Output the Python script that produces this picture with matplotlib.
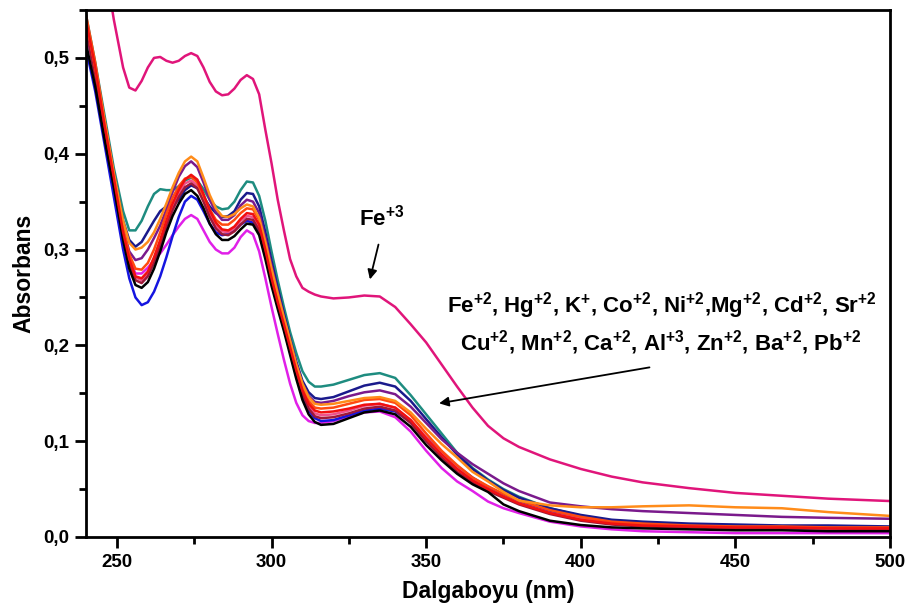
import matplotlib
matplotlib.use("Agg")
import matplotlib.pyplot as plt
from matplotlib.ticker import MultipleLocator, FuncFormatter

plt.rcParams['font.family'] = ['Liberation Sans', 'DejaVu Sans']
plt.rcParams['font.weight'] = 'bold'
plt.rcParams['mathtext.fontset'] = 'custom'
plt.rcParams['mathtext.rm'] = 'Liberation Sans:bold'
plt.rcParams['mathtext.bf'] = 'Liberation Sans:bold'
plt.rcParams['mathtext.it'] = 'Liberation Sans:bold'
plt.rcParams['mathtext.default'] = 'bf'

wavelength = [240, 243, 246, 249, 252, 254, 256, 258, 260, 262, 264, 266, 268, 270, 272,
              274, 276, 278, 280, 282, 284, 286, 288, 290, 292, 294, 296, 298, 300, 302,
              304, 306, 308, 310, 312, 314, 316, 320, 325, 330, 335, 340, 345, 350, 355,
              360, 365, 370, 375, 380, 390, 400, 410, 420, 435, 450, 465, 480, 500]

fe3 = [0.70, 0.65, 0.60, 0.54, 0.49, 0.469, 0.466, 0.476, 0.490, 0.500, 0.501, 0.497, 0.495, 0.497, 0.502,
       0.505, 0.502, 0.490, 0.475, 0.465, 0.461, 0.462, 0.468, 0.477, 0.482, 0.478, 0.462, 0.425, 0.39, 0.352,
       0.32, 0.29, 0.272, 0.26, 0.256, 0.253, 0.251, 0.249, 0.250, 0.252, 0.251, 0.240, 0.222, 0.203, 0.180,
       0.157, 0.135, 0.116, 0.103, 0.094, 0.081, 0.071, 0.063, 0.057, 0.051, 0.046, 0.043, 0.040, 0.0375]

teal = [0.545, 0.495, 0.44, 0.385, 0.34, 0.32, 0.32, 0.33, 0.345, 0.358, 0.363, 0.362, 0.362, 0.366, 0.372,
        0.375, 0.372, 0.363, 0.352, 0.345, 0.342, 0.343, 0.35, 0.362, 0.371, 0.37, 0.356, 0.33, 0.298, 0.268,
        0.24, 0.214, 0.192, 0.173, 0.162, 0.157, 0.157, 0.159, 0.164, 0.169, 0.171, 0.166, 0.148, 0.128, 0.108,
        0.088, 0.072, 0.06, 0.05, 0.042, 0.03, 0.022, 0.017, 0.014, 0.012, 0.011, 0.01, 0.01, 0.009]

navy = [0.54, 0.49, 0.435, 0.38, 0.33, 0.31, 0.303, 0.308, 0.319, 0.33, 0.34, 0.345, 0.346, 0.352, 0.362,
        0.367, 0.364, 0.355, 0.345, 0.338, 0.334, 0.335, 0.34, 0.352, 0.359, 0.358, 0.345, 0.318, 0.288, 0.26,
        0.233, 0.207, 0.183, 0.163, 0.151, 0.145, 0.144, 0.146, 0.152, 0.158, 0.161, 0.157, 0.142, 0.123, 0.104,
        0.086, 0.071, 0.059, 0.049, 0.041, 0.03, 0.023, 0.018, 0.016, 0.014, 0.013, 0.012, 0.012, 0.011]

purple = [0.535, 0.485, 0.43, 0.375, 0.322, 0.298, 0.289, 0.291, 0.3, 0.312, 0.325, 0.342, 0.36, 0.376, 0.387,
          0.392, 0.386, 0.37, 0.352, 0.339, 0.331, 0.331, 0.336, 0.346, 0.352, 0.35, 0.338, 0.312, 0.283, 0.256,
          0.23, 0.205, 0.181, 0.16, 0.147, 0.141, 0.14, 0.142, 0.147, 0.151, 0.153, 0.149, 0.136, 0.119, 0.102,
          0.088, 0.076, 0.066, 0.056, 0.048, 0.036, 0.032, 0.029, 0.027, 0.025, 0.023, 0.021, 0.02, 0.019]

orange = [0.54, 0.49, 0.435, 0.38, 0.33, 0.307, 0.3, 0.302, 0.308, 0.318, 0.332, 0.348, 0.365, 0.38, 0.392,
          0.397, 0.392, 0.375, 0.357, 0.343, 0.335, 0.334, 0.337, 0.343, 0.347, 0.345, 0.333, 0.308, 0.28, 0.254,
          0.229, 0.205, 0.18, 0.16, 0.146, 0.139, 0.138, 0.139, 0.142, 0.145, 0.146, 0.142, 0.13, 0.113, 0.097,
          0.083, 0.068, 0.058, 0.047, 0.038, 0.033, 0.031, 0.031, 0.032, 0.033, 0.031, 0.03, 0.026, 0.022]

magenta = [0.53, 0.48, 0.425, 0.37, 0.318, 0.29, 0.275, 0.275, 0.281, 0.289, 0.296, 0.305, 0.315, 0.324, 0.332,
           0.336, 0.332, 0.32, 0.308, 0.3, 0.296, 0.296, 0.302, 0.313, 0.32, 0.316, 0.298, 0.27, 0.24, 0.212,
           0.185, 0.16, 0.14, 0.127, 0.121, 0.119, 0.119, 0.121, 0.126, 0.13, 0.131, 0.125, 0.11, 0.09, 0.072,
           0.058, 0.048, 0.037, 0.03, 0.025, 0.016, 0.011, 0.008, 0.006, 0.005, 0.004, 0.004, 0.004, 0.004]

blue = [0.51, 0.465, 0.41, 0.355, 0.3, 0.27, 0.25, 0.242, 0.245, 0.256, 0.272, 0.292, 0.314, 0.334, 0.35,
        0.356, 0.352, 0.34, 0.327, 0.318, 0.315, 0.316, 0.32, 0.326, 0.33, 0.328, 0.318, 0.295, 0.268, 0.242,
        0.218, 0.193, 0.168, 0.147, 0.132, 0.124, 0.121, 0.122, 0.127, 0.132, 0.134, 0.131, 0.12, 0.104, 0.088,
        0.074, 0.062, 0.052, 0.044, 0.037, 0.027, 0.02, 0.016, 0.013, 0.011, 0.01, 0.009, 0.009, 0.008]

black = [0.515, 0.47, 0.415, 0.365, 0.31, 0.28, 0.263, 0.26, 0.266, 0.28, 0.298, 0.318, 0.335, 0.348, 0.358,
         0.362, 0.356, 0.343, 0.327, 0.316, 0.31, 0.31, 0.314, 0.321, 0.327, 0.326, 0.315, 0.29, 0.262, 0.238,
         0.215, 0.19, 0.165, 0.143, 0.128, 0.12, 0.117, 0.118, 0.124, 0.13, 0.132, 0.128, 0.115, 0.096, 0.08,
         0.066, 0.055, 0.047, 0.034, 0.027, 0.017, 0.0125, 0.01, 0.009, 0.008, 0.007, 0.007, 0.006, 0.006]

pink = [0.535, 0.485, 0.428, 0.372, 0.316, 0.288, 0.271, 0.268, 0.275, 0.289, 0.307, 0.327, 0.345, 0.359, 0.369,
        0.372, 0.367, 0.353, 0.337, 0.325, 0.319, 0.318, 0.322, 0.33, 0.335, 0.334, 0.323, 0.298, 0.269, 0.244,
        0.221, 0.197, 0.173, 0.152, 0.137, 0.129, 0.127, 0.128, 0.132, 0.137, 0.139, 0.135, 0.122, 0.104, 0.087,
        0.072, 0.06, 0.05, 0.042, 0.035, 0.025, 0.019, 0.015, 0.013, 0.011, 0.01, 0.01, 0.009, 0.009]

wine = [0.53, 0.48, 0.423, 0.37, 0.314, 0.285, 0.268, 0.265, 0.272, 0.286, 0.304, 0.324, 0.341, 0.355, 0.365,
        0.369, 0.364, 0.35, 0.334, 0.322, 0.316, 0.315, 0.319, 0.326, 0.332, 0.331, 0.32, 0.295, 0.266, 0.241,
        0.218, 0.194, 0.17, 0.149, 0.134, 0.126, 0.124, 0.125, 0.129, 0.134, 0.136, 0.132, 0.119, 0.1, 0.083,
        0.068, 0.057, 0.048, 0.041, 0.034, 0.024, 0.017, 0.013, 0.011, 0.01, 0.009, 0.009, 0.009, 0.008]

orangered = [0.545, 0.495, 0.435, 0.378, 0.322, 0.295, 0.28, 0.279, 0.286, 0.3, 0.318, 0.337, 0.354, 0.366, 0.374,
             0.376, 0.37, 0.356, 0.342, 0.331, 0.326, 0.326, 0.331, 0.338, 0.343, 0.342, 0.331, 0.306, 0.277, 0.251,
             0.227, 0.203, 0.178, 0.157, 0.142, 0.135, 0.134, 0.135, 0.139, 0.143, 0.144, 0.14, 0.127, 0.108, 0.09,
             0.075, 0.062, 0.053, 0.045, 0.038, 0.028, 0.021, 0.016, 0.014, 0.012, 0.011, 0.011, 0.01, 0.01]

red = [0.54, 0.49, 0.43, 0.375, 0.318, 0.29, 0.272, 0.27, 0.277, 0.292, 0.31, 0.33, 0.348, 0.362, 0.373,
       0.378, 0.373, 0.358, 0.341, 0.328, 0.321, 0.32, 0.324, 0.332, 0.338, 0.337, 0.326, 0.3, 0.27, 0.245,
       0.222, 0.198, 0.174, 0.153, 0.139, 0.132, 0.13, 0.131, 0.134, 0.138, 0.139, 0.135, 0.122, 0.103, 0.086,
       0.071, 0.059, 0.05, 0.042, 0.035, 0.025, 0.018, 0.014, 0.012, 0.011, 0.01, 0.01, 0.009, 0.009]

series = [
    (teal, '#1E8C80'),
    (navy, '#1A1A8C'),
    (purple, '#7A1A8C'),
    (magenta, '#E020E8'),
    (blue, '#1515E0'),
    (pink, '#F0508C'),
    (wine, '#A01838'),
    (black, '#000000'),
    (orangered, '#FF4A10'),
    (orange, '#FF8C1A'),
    (red, '#F01010'),
    (fe3, '#E0157A'),
]

fig = plt.figure(figsize=(9.08, 6.10), dpi=100)
ax = fig.add_axes([0.0947, 0.1197, 0.8855, 0.8639])

for vals, col in series:
    ax.plot(wavelength, vals, color=col, lw=1.8, solid_joinstyle='round')

ax.set_xlim(240, 500)
ax.set_ylim(0, 0.55)
ax.xaxis.set_major_locator(MultipleLocator(50))
ax.xaxis.set_minor_locator(MultipleLocator(25))
ax.yaxis.set_major_locator(MultipleLocator(0.1))
ax.yaxis.set_minor_locator(MultipleLocator(0.05))
ax.yaxis.set_major_formatter(FuncFormatter(lambda v, p: f"{v:.1f}".replace('.', ',')))
ax.tick_params(axis='both', which='major', direction='out', length=8, width=2,
               labelsize=13.5, pad=4)
ax.tick_params(axis='both', which='minor', direction='out', length=5, width=2)
ax.tick_params(top=False, right=False)
for lab in ax.get_xticklabels() + ax.get_yticklabels():
    lab.set_fontweight('bold')
for sp in ax.spines.values():
    sp.set_linewidth(2)

ax.set_xlabel('Dalgaboyu (nm)', fontsize=16.5, fontweight='bold', labelpad=7)
ax.set_ylabel('Absorbans', fontsize=16.5, fontweight='bold', labelpad=6)

ax.annotate('', xy=(331.6, 0.266), xytext=(334.8, 0.308),
            arrowprops=dict(arrowstyle='-|>', color='black', lw=1.3, mutation_scale=14))
ax.text(335.5, 0.333, r'Fe$^{+3}$', ha='center', va='center', fontsize=16, fontweight='bold')

ax.annotate('', xy=(353.3, 0.139), xytext=(423.1, 0.1775),
            arrowprops=dict(arrowstyle='-|>', color='black', lw=1.3, mutation_scale=14))
ax.text(426.4, 0.242, r'Fe$^{+2}$, Hg$^{+2}$, K$^{+}$, Co$^{+2}$, Ni$^{+2}$,Mg$^{+2}$, Cd$^{+2}$, Sr$^{+2}$',
        ha='center', va='center', fontsize=16, fontweight='bold')
ax.text(426.0, 0.203, r'Cu$^{+2}$, Mn$^{+2}$, Ca$^{+2}$, Al$^{+3}$, Zn$^{+2}$, Ba$^{+2}$, Pb$^{+2}$',
        ha='center', va='center', fontsize=16, fontweight='bold')

fig.savefig('out.png', dpi=100)
